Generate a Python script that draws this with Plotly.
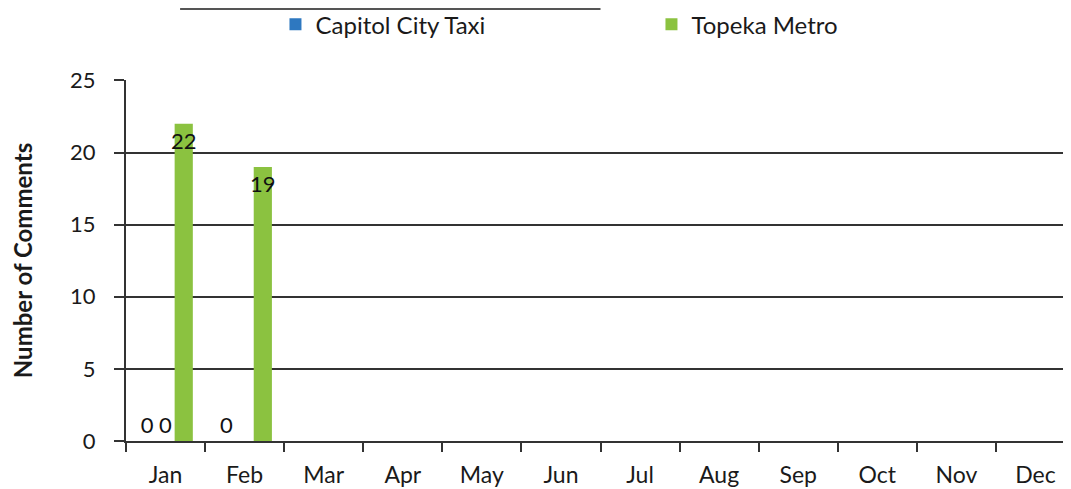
import plotly.graph_objects as go

months = ["Jan", "Feb", "Mar", "Apr", "May", "Jun", "Jul", "Aug", "Sep", "Oct", "Nov", "Dec"]
capitol_city_taxi = [0, 0, None, None, None, None, None, None, None, None, None, None]
unlabeled_series = [0, None, None, None, None, None, None, None, None, None, None, None]
topeka_metro = [22, 19, None, None, None, None, None, None, None, None, None, None]
y_ticks = [0, 5, 10, 15, 20, 25]

FONT = "Lato"

def labels(vals):
    return ["" if v is None else str(v) for v in vals]

fig = go.Figure()
fig.add_trace(go.Bar(
    x=months, y=capitol_city_taxi, name="Capitol City Taxi",
    marker=dict(color="#2E78C0", line=dict(width=0)),
    text=labels(capitol_city_taxi), textposition="outside",
    textfont=dict(family=FONT, size=22, color="#111111"), cliponaxis=False,
))
fig.add_trace(go.Bar(
    x=months, y=unlabeled_series, name="", showlegend=False,
    marker=dict(color="#C0504D", line=dict(width=0)),
    text=labels(unlabeled_series), textposition="outside",
    textfont=dict(family=FONT, size=22, color="#111111"), cliponaxis=False,
))
fig.add_trace(go.Bar(
    x=months, y=topeka_metro, name="Topeka Metro",
    marker=dict(color="#8BC240", line=dict(width=0)),
    text=labels(topeka_metro), textposition="inside", insidetextanchor="end",
    textangle=0, constraintext="none",
    textfont=dict(family=FONT, size=22, color="#111111"),
))

fig.update_layout(
    width=1071, height=489,
    margin=dict(l=118, r=4, t=72, b=56, autoexpand=False),
    paper_bgcolor="white", plot_bgcolor="white",
    barmode="group", bargap=0.31, bargroupgap=0,
    font=dict(family=FONT, size=22, color="#1a1a1a"),
    showlegend=True,
    legend=dict(
        orientation="h", x=0.1575, xanchor="left", y=1.153, yanchor="middle",
        font=dict(family=FONT, size=24, color="#1a1a1a"),
        entrywidth=331, entrywidthmode="pixels",
        itemsizing="constant", bgcolor="rgba(0,0,0,0)",
    ),
    xaxis=dict(
        type="category", showgrid=False,
        showline=True, linecolor="#333333", linewidth=2,
        ticks="outside", ticklen=9, tickwidth=2, tickcolor="#333333",
        tickson="boundaries", ticklabelstandoff=12,
        tickfont=dict(family=FONT, size=23, color="#1a1a1a"),
    ),
    yaxis=dict(
        range=[0, 25.03], tickvals=y_ticks,
        showgrid=True, gridcolor="#333333", gridwidth=2,
        showline=True, linecolor="#333333", linewidth=2,
        ticks="outside", ticklen=10, tickwidth=2, tickcolor="#333333",
        zeroline=False, ticklabelstandoff=14,
        tickfont=dict(family=FONT, size=22, color="#1a1a1a"),
        title=dict(text="<b>Number of Comments</b>", standoff=46,
                   font=dict(family=FONT, size=24, color="#1a1a1a")),
    ),
    shapes=[dict(type="line", xref="paper", yref="paper",
                 x0=0.057, x1=0.5, y0=1.197, y1=1.197,
                 line=dict(color="#555555", width=2))],
)

fig.write_html("out.html")
